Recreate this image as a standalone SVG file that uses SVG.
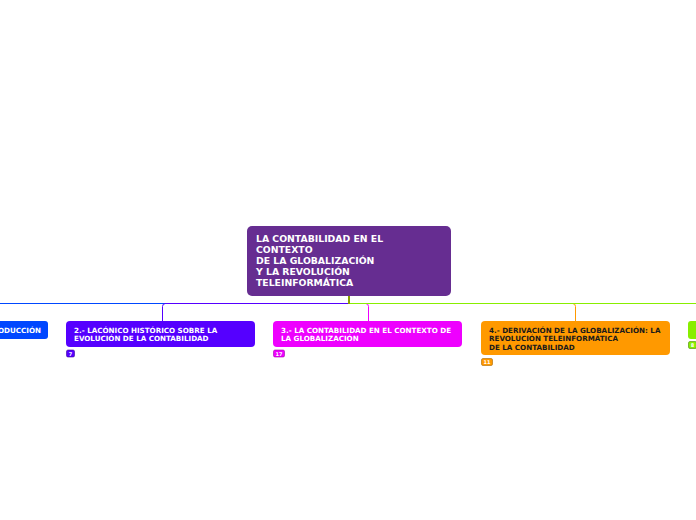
<svg xmlns="http://www.w3.org/2000/svg" width="696" height="520" viewBox="0 0 696 520">
<style>
.t{font-family:"DejaVu Sans","Verdana",sans-serif;font-weight:bold;}
.rt{font-size:9.3px;fill:#ffffff;}
.ct{font-size:7.15px;fill:#ffffff;}
.dk{fill:#1a1a1a;}
.bt{font-size:5px;fill:#ffffff;text-anchor:middle;}
.c{fill:none;stroke-width:1;}
</style>
<rect width="696" height="520" fill="#ffffff"/>
<g id="connectors">
<path class="c" stroke="#0047ff" d="M349,303.5 H-10"/>
<path class="c" stroke="#5500ff" d="M349,303.5 H165.5 Q162.5,303.5 162.5,306.5 V321"/>
<path class="c" stroke="#ff9900" d="M349,303.5 H572.5 Q575.5,303.5 575.5,306.5 V321"/>
<path class="c" stroke="#ee00ff" d="M349,303.5 H365.5 Q368.5,303.5 368.5,306.5 V321"/>
<path class="c" stroke="#88ee00" d="M349,303.5 H700"/>
<path fill="none" stroke="#8aa000" stroke-width="2" d="M349,295 V304"/>
</g>
<g id="root">
<rect x="247" y="226" width="204" height="70" rx="5" fill="#662d91"/>
<text class="t rt"><tspan x="256" y="242">LA CONTABILIDAD EN EL</tspan><tspan x="256" y="253">CONTEXTO</tspan><tspan x="256" y="264">DE LA GLOBALIZACIÓN</tspan><tspan x="256" y="275">Y LA REVOLUCIÓN</tspan><tspan x="256" y="286">TELEINFORMÁTICA</tspan></text>
</g>
<g id="node1">
<rect x="-40" y="321" width="88" height="18" rx="3" fill="#0047ff"/>
<text class="t ct" x="41" y="332.5" text-anchor="end">1.- INTRODUCCIÓN</text>
</g>
<g id="node2">
<rect x="66" y="321" width="189" height="26" rx="4" fill="#5500ff"/>
<text class="t ct"><tspan x="74" y="332.5">2.- LACÓNICO HISTÓRICO SOBRE LA</tspan><tspan x="74" y="341">EVOLUCIÓN DE LA CONTABILIDAD</tspan></text>
<rect x="66.5" y="350" width="8" height="7" rx="1.5" fill="#5500ff" stroke="#3a0099" stroke-width="0.6"/>
<text class="t bt" x="70.5" y="355.5">7</text>
</g>
<g id="node3">
<rect x="273" y="321" width="189" height="26" rx="4" fill="#ee00ff"/>
<text class="t ct"><tspan x="281" y="332.5">3.- LA CONTABILIDAD EN EL CONTEXTO DE</tspan><tspan x="281" y="341">LA GLOBALIZACIÓN</tspan></text>
<rect x="273.5" y="350" width="11" height="7" rx="1.5" fill="#ee00ff" stroke="#a000aa" stroke-width="0.6"/>
<text class="t bt" x="279" y="355.5">17</text>
</g>
<g id="node4">
<rect x="481" y="321" width="189" height="34" rx="4" fill="#ff9900"/>
<text class="t ct dk"><tspan x="489" y="332.5">4.- DERIVACIÓN DE LA GLOBALIZACIÓN: LA</tspan><tspan x="489" y="341">REVOLUCIÓN TELEINFORMÁTICA</tspan><tspan x="489" y="349.5">DE LA CONTABILIDAD</tspan></text>
<rect x="481.5" y="358.5" width="11" height="7" rx="1.5" fill="#ff9900" stroke="#aa6600" stroke-width="0.6"/>
<text class="t bt dk" x="487" y="364">11</text>
</g>
<g id="node5">
<rect x="688" y="321" width="40" height="18" rx="3" fill="#88ee00"/>
<rect x="688.5" y="341.5" width="8" height="7" rx="1.5" fill="#88ee00" stroke="#4a8800" stroke-width="0.6"/>
<text class="t bt dk" x="692.5" y="347">8</text>
</g>
</svg>
